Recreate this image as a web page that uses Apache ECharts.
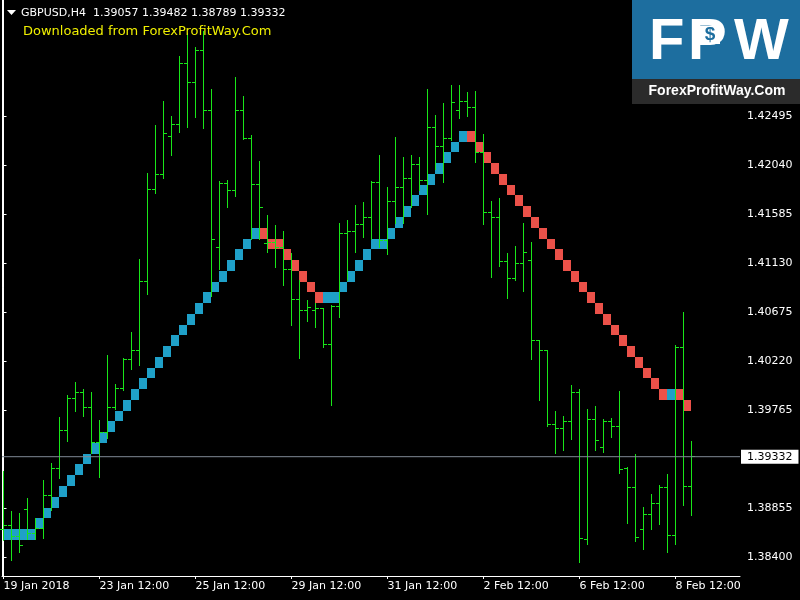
<!DOCTYPE html>
<html><head><meta charset="utf-8">
<script src="https://cdn.jsdelivr.net/npm/echarts@6/dist/echarts.min.js"></script>
<style>html,body{margin:0;padding:0;background:#000;}#c{width:800px;height:600px;}</style>
</head><body><div id="c"></div>
<script>
const symbolName = 'GBPUSD,H4';
const watermark = 'Downloaded from ForexProfitWay.Com';
const logoSite = 'ForexProfitWay.Com';

const barOpen = [1.38651,1.38695,1.38591,1.38841,1.38620,1.38668,1.38974,1.39224,1.39576,1.39873,
1.39931,1.39793,1.39463,1.39559,1.39793,1.39970,1.40235,1.40318,1.40964,1.41817,
1.41956,1.42311,1.42424,1.42986,1.42812,1.43108,1.42550,1.41278,1.41872,1.41808,
1.42550,1.42289,1.41862,1.41313,1.41326,1.41278,1.41075,1.40793,1.40693,1.40693,
1.40710,1.40377,1.40729,1.41407,1.41426,1.41491,1.41556,1.41882,1.41342,1.41704,
1.41833,1.41918,1.42046,1.41898,1.42392,1.42215,1.42289,1.42550,1.42634,1.42579,
1.42160,1.41600,1.41556,1.41147,1.40989,1.41131,1.41160,1.40413,1.40320,1.39633,
1.39596,1.39661,1.39930,1.38564,1.39679,1.39419,1.39661,1.39614,1.39224,1.39048,
1.38651,1.38797,1.38899,1.39048,1.38602,1.40348,1.39057];
const barHigh = [1.39195,1.38824,1.38808,1.38948,1.38760,1.39113,1.39273,1.39702,1.39905,1.40025,
1.39961,1.39938,1.39673,1.40277,1.40012,1.40248,1.40487,1.41165,1.41972,1.42414,
1.42634,1.42498,1.43053,1.43271,1.43138,1.43287,1.42753,1.41898,1.41907,1.42860,
1.42683,1.42320,1.42079,1.41577,1.41484,1.41429,1.41229,1.40971,1.40793,1.40761,
1.40713,1.40745,1.41504,1.41536,1.41672,1.41698,1.41898,1.42134,1.41836,1.42301,
1.42116,1.42134,1.42117,1.42747,1.42504,1.42618,1.42789,1.42789,1.42725,1.42727,
1.42333,1.41707,1.41735,1.41224,1.41289,1.41500,1.41326,1.40416,1.40323,1.39756,
1.39710,1.39998,1.39961,1.39775,1.39803,1.39682,1.39691,1.39942,1.39236,1.39357,
1.38865,1.38985,1.39069,1.39171,1.40367,1.40676,1.39482];
const barLow = [1.38558,1.38372,1.38443,1.38565,1.38565,1.38572,1.38841,1.39137,1.39480,1.39760,
1.39712,1.39366,1.39146,1.39502,1.39776,1.39955,1.40147,1.40189,1.40841,1.41784,
1.41924,1.42134,1.42353,1.42398,1.42489,1.42385,1.40826,1.41075,1.41649,1.41756,
1.42285,1.41359,1.41359,1.41235,1.41094,1.40929,1.40557,1.40251,1.40590,1.40541,
1.40348,1.39808,1.40632,1.40971,1.41235,1.41375,1.41359,1.41278,1.41213,1.41504,
1.41503,1.41649,1.41809,1.41585,1.42005,1.41885,1.42279,1.42482,1.42498,1.42069,
1.41494,1.41003,1.41106,1.40809,1.40973,1.40874,1.40242,1.39859,1.39620,1.39369,
1.39394,1.39496,1.38354,1.38521,1.39394,1.39378,1.39518,1.39183,1.38719,1.38551,
1.38477,1.38663,1.38709,1.38449,1.38524,1.38886,1.38789];
const barClose = [1.38695,1.38591,1.38507,1.38620,1.38668,1.38974,1.39224,1.39576,1.39873,1.39931,
1.39793,1.39463,1.39559,1.39793,1.39970,1.40235,1.40318,1.40964,1.41817,1.41956,
1.42337,1.42424,1.42986,1.42812,1.43108,1.42550,1.41352,1.41872,1.41808,1.42550,
1.42289,1.41862,1.41649,1.41326,1.41278,1.41075,1.40793,1.40693,1.40719,1.40710,
1.40377,1.40729,1.41407,1.41426,1.41491,1.41556,1.41882,1.41342,1.41704,1.41833,
1.41918,1.42046,1.41898,1.42392,1.42215,1.42289,1.42624,1.42634,1.42579,1.42160,
1.41600,1.41556,1.41147,1.40989,1.41131,1.41231,1.40413,1.40320,1.39633,1.39596,
1.39661,1.39930,1.38574,1.39679,1.39484,1.39661,1.39614,1.39215,1.39048,1.38583,
1.38797,1.38899,1.39048,1.38602,1.40348,1.39057,1.39332];

const brickSize = 0.0010;
const brickLow = [1.3856,1.3856,1.3856,1.3856,1.3866,1.3876,1.3886,1.3896,1.3906,1.3916,
1.3926,1.3936,1.3946,1.3956,1.3966,1.3976,1.3986,1.3996,1.4006,1.4016,
1.4026,1.4036,1.4046,1.4056,1.4066,1.4076,1.4086,1.4096,1.4106,1.4116,
1.4126,1.4136,1.4136,1.4126,1.4126,1.4116,1.4106,1.4096,1.4086,1.4076,
1.4076,1.4076,1.4086,1.4096,1.4106,1.4116,1.4126,1.4126,1.4136,1.4146,
1.4156,1.4166,1.4176,1.4186,1.4196,1.4206,1.4216,1.4226,1.4226,1.4216,
1.4206,1.4196,1.4186,1.4176,1.4166,1.4156,1.4146,1.4136,1.4126,1.4116,
1.4106,1.4096,1.4086,1.4076,1.4066,1.4056,1.4046,1.4036,1.4026,1.4016,
1.4006,1.3996,1.3986,1.3986,1.3986,1.3976];
const brickDir = [1,1,1,1,1,1,1,1,1,1,
1,1,1,1,1,1,1,1,1,1,
1,1,1,1,1,1,1,1,1,1,
1,1,-1,-1,-1,-1,-1,-1,-1,-1,
1,1,1,1,1,1,1,1,1,1,
1,1,1,1,1,1,1,1,-1,-1,
-1,-1,-1,-1,-1,-1,-1,-1,-1,-1,
-1,-1,-1,-1,-1,-1,-1,-1,-1,-1,
-1,-1,-1,1,-1,-1];

const bidPrice = 1.39332;
const priceTicks = [1.38400,1.38855,1.39765,1.40220,1.40675,1.41130,1.41585,1.42040,1.42495];
const timeTickIdx = [0,12,24,36,48,60,72,84];
const timeTickLabels = ['19 Jan 2018','23 Jan 12:00','25 Jan 12:00','29 Jan 12:00','31 Jan 12:00','2 Feb 12:00','6 Feb 12:00','8 Feb 12:00'];

const GREEN = '#19e619', BLUE = '#1fa0c8', RED = '#eb5149', WHITE = '#ffffff', LOGO_BLUE = '#1d6e9f';
const FONT = '"DejaVu Sans", sans-serif';
const LOGO_FONT = '"Liberation Sans", Arial, sans-serif';

const X_MIN = -0.1875, X_MAX = 92.0625;
const Y_MIN = 1.382234, Y_MAX = 1.435766;

const barData = barOpen.map((o, i) => [i, o, barHigh[i], barLow[i], barClose[i]]);
const brickData = brickLow.map((lo, i) => [i, lo, lo + brickSize, brickDir[i]]);
const last = barOpen.length - 1;
const headerText = symbolName + '  ' + [barOpen[last], barHigh[last], barLow[last], barClose[last]].map(v => v.toFixed(5)).join(' ');

const chart = echarts.init(document.getElementById('c'), null, {renderer: 'canvas'});
chart.setOption({
  backgroundColor: '#000000',
  animation: false,
  grid: {left: 2, right: 60, top: 0, bottom: 24, containLabel: false},
  xAxis: {
    type: 'value', min: X_MIN, max: X_MAX, position: 'bottom',
    axisLine: {show: true, lineStyle: {color: WHITE, width: 1}},
    axisTick: {show: true, customValues: timeTickIdx, length: 3, lineStyle: {color: WHITE}},
    axisLabel: {show: true, customValues: timeTickIdx, align: 'left', color: WHITE, fontFamily: FONT, fontSize: 11, margin: 5,
      formatter: v => timeTickLabels[timeTickIdx.indexOf(Math.round(v))] || ''},
    splitLine: {show: false}
  },
  yAxis: [{
    type: 'value', position: 'right', min: Y_MIN, max: Y_MAX, scale: true,
    axisLine: {show: true, lineStyle: {color: WHITE, width: 1}},
    axisTick: {show: true, customValues: priceTicks, length: 3, lineStyle: {color: WHITE}},
    axisLabel: {show: true, customValues: priceTicks, color: WHITE, fontFamily: FONT, fontSize: 11, margin: 7,
      formatter: v => v.toFixed(5)},
    splitLine: {show: false}
  }, {
    type: 'value', position: 'left', min: Y_MIN, max: Y_MAX, scale: true,
    axisLine: {show: true, lineStyle: {color: WHITE, width: 1}},
    axisTick: {show: false}, axisLabel: {show: false}, splitLine: {show: false}
  }],
  series: [{
    type: 'custom', name: 'bricks', z: 2, silent: true,
    data: brickData, encode: {x: 0, y: [1, 2]},
    renderItem: function (params, api) {
      const i = api.value(0), lo = api.value(1), hi = api.value(2), d = api.value(3);
      const a = api.coord([i, hi]), b = api.coord([i + 1, lo]);
      const x1 = Math.floor(a[0]), x2 = Math.floor(b[0]);
      const y1 = Math.round(a[1]), y2 = Math.round(b[1]);
      return {type: 'rect', shape: {x: x1, y: y1, width: x2 - x1, height: y2 - y1},
        style: {fill: d > 0 ? BLUE : RED}};
    }
  }, {
    type: 'custom', name: 'bars', z: 3, silent: true,
    data: barData, encode: {x: 0, y: [1, 2, 3, 4]},
    renderItem: function (params, api) {
      const i = api.value(0);
      const pO = api.coord([i, api.value(1)]);
      const pH = api.coord([i, api.value(2)]);
      const pL = api.coord([i, api.value(3)]);
      const pC = api.coord([i, api.value(4)]);
      const c = Math.floor(pO[0]);
      const x = c + 0.5;
      const yH = Math.round(pH[1]), yL = Math.round(pL[1]);
      const yO = Math.floor(pO[1]) + 0.5, yC = Math.floor(pC[1]) + 0.5;
      const st = {stroke: GREEN, lineWidth: 1};
      return {type: 'group', children: [
        {type: 'line', shape: {x1: x, y1: yH, x2: x, y2: yL + 1}, style: st},
        {type: 'line', shape: {x1: c - 3, y1: yO, x2: c + 1, y2: yO}, style: st},
        {type: 'line', shape: {x1: c, y1: yC, x2: c + 4, y2: yC}, style: st}
      ]};
    }
  }, {
    type: 'line', name: 'bid', z: 4, silent: true,
    data: [[X_MIN, bidPrice], [X_MAX, bidPrice]],
    showSymbol: false, symbol: 'none',
    lineStyle: {color: '#808a96', width: 1, type: 'solid'},
    endLabel: {show: true, distance: 1, formatter: () => bidPrice.toFixed(5),
      color: '#000000', backgroundColor: '#ffffff', padding: [2, 6, 1, 6],
      fontFamily: FONT, fontSize: 11}
  }],
  graphic: [
    {type: 'polygon', z: 100, shape: {points: [[7, 10], [16, 10], [11.5, 15]]}, style: {fill: WHITE}},
    {type: 'text', z: 100, x: 21, y: 13, style: {text: headerText, fill: WHITE, font: '11px ' + FONT, align: 'left', verticalAlign: 'middle'}},
    {type: 'text', z: 100, x: 23, y: 32, style: {text: watermark, fill: '#f0f000', font: '13px ' + FONT, align: 'left', verticalAlign: 'middle'}},
    {type: 'rect', z: 100, shape: {x: 632, y: 0, width: 168, height: 79}, style: {fill: LOGO_BLUE}},
    {type: 'rect', z: 100, shape: {x: 632, y: 79, width: 168, height: 25}, style: {fill: '#2b2b2b'}},
    {type: 'text', z: 101, x: 649, y: 43, style: {text: 'F', fill: WHITE, font: 'bold 58px ' + LOGO_FONT, align: 'left', verticalAlign: 'middle'}},
    {type: 'text', z: 101, x: 688, y: 43, style: {text: 'P', fill: WHITE, font: 'bold 58px ' + LOGO_FONT, align: 'left', verticalAlign: 'middle'}},
    {type: 'rect', z: 102, shape: {x: 699, y: 26, width: 21, height: 18}, style: {fill: WHITE}},
    {type: 'text', z: 103, x: 710, y: 35, style: {text: '$', fill: LOGO_BLUE, font: 'bold 19px ' + LOGO_FONT, align: 'center', verticalAlign: 'middle'}},
    {type: 'text', z: 101, x: 734, y: 43, style: {text: 'W', fill: WHITE, font: 'bold 58px ' + LOGO_FONT, align: 'left', verticalAlign: 'middle'}},
    {type: 'text', z: 101, x: 717, y: 91, style: {text: logoSite, fill: WHITE, font: 'bold 14px ' + LOGO_FONT, align: 'center', verticalAlign: 'middle'}}
  ]
});
</script>
</body></html>
